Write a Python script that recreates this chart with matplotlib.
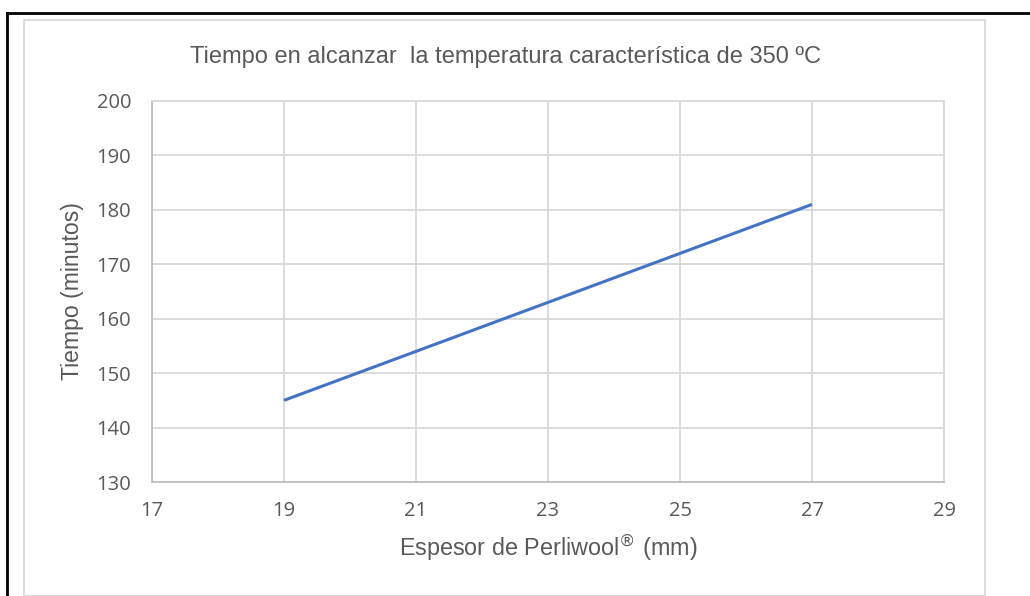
import matplotlib.pyplot as plt
from matplotlib.lines import Line2D
from matplotlib.patches import Rectangle

espesor = [19, 21, 23, 25, 27]
tiempo = [145, 154, 163, 172, 181]
xticks = [17, 19, 21, 23, 25, 27, 29]
yticks = [130, 140, 150, 160, 170, 180, 190, 200]

plt.rcParams['font.family'] = ['Open Sans', 'DejaVu Sans']
gris = '#595959'
etiqueta = ['Liberation Sans', 'DejaVu Sans']

W, H = 1030, 596
fig = plt.figure(figsize=(W / 100, H / 100), dpi=100)
ax = fig.add_axes([152 / W, 1 - 482 / H, (944 - 152) / W, (482 - 101) / H])

ax.plot(espesor, tiempo, color='#4472C4', linewidth=2.2, solid_capstyle='butt')

ax.set_xlim(17, 29)
ax.set_ylim(130, 200)
ax.set_xticks(xticks)
ax.set_yticks(yticks)
ax.grid(True, color='#D9D9D9', linewidth=1.3)
ax.set_axisbelow(True)
for s in ax.spines.values():
    s.set_color('#D9D9D9')
    s.set_linewidth(1.3)
ax.spines['bottom'].set_color('#BFBFBF')
ax.spines['left'].set_color('#BFBFBF')
ax.tick_params(length=0, labelsize=14.5, labelcolor=gris)
ax.tick_params(axis='y', pad=15)
ax.tick_params(axis='x', pad=14)

ax.set_xlabel('Espesor de Perliwool$^{®}$ (mm)', fontsize=16.8, color=gris, labelpad=8,
              family=etiqueta)
ax.set_ylabel('Tiempo (minutos)', fontsize=16.6, color=gris, labelpad=9, family=etiqueta)
fig.text(506 / W, 1 - 57 / H, 'Tiempo en alcanzar  la temperatura característica de 350 ºC',
         ha='center', va='center', fontsize=17, color=gris, family=etiqueta)

# borde gris del gráfico
fig.patches.append(Rectangle((24 / W, 0), (985 - 24) / W, 1 - 20 / H, transform=fig.transFigure,
                             fill=False, edgecolor='#D9D9D9', linewidth=1.3))
# borde negro de la captura
fig.lines.append(Line2D([7 / W, 1], [1 - 13 / H, 1 - 13 / H], transform=fig.transFigure,
                        color='black', linewidth=2))
fig.lines.append(Line2D([7 / W, 7 / W], [0, 1 - 13 / H], transform=fig.transFigure,
                        color='black', linewidth=2))

fig.savefig('out.png', dpi=100)
